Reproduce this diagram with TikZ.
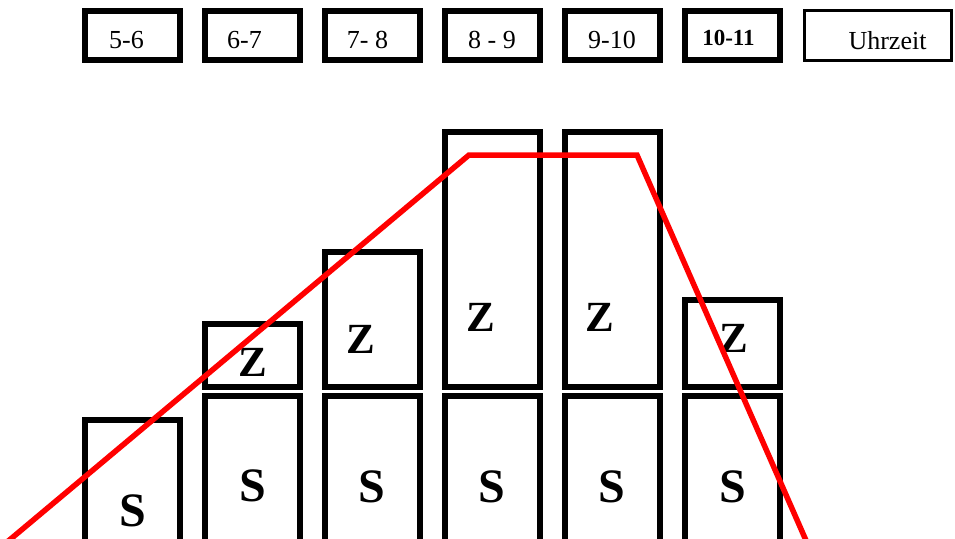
\documentclass[tikz,border=0pt]{standalone}
\usepackage{fontspec}
\setmainfont{Liberation Serif}
\begin{document}
\begin{tikzpicture}[x=1pt,y=-1pt,
  hbox/.style={draw=black,line width=5.5pt,inner sep=0pt,minimum width=95pt},
  ubox/.style={draw=black,line width=3pt,inner sep=0pt,minimum width=147pt,minimum height=50pt},
  lbl/.style={inner sep=0pt,anchor=base,font=\fontsize{26}{26}\selectfont},
  blbl/.style={inner sep=0pt,anchor=base,font=\fontsize{23}{23}\selectfont\bfseries},
  slbl/.style={inner sep=0pt,anchor=base,font=\fontsize{48}{48}\selectfont\bfseries},
  zlbl/.style={inner sep=0pt,anchor=base,font=\fontsize{43}{43}\selectfont\bfseries},
  redline/.style={draw=red,line width=5.5pt}]
\useasboundingbox (0,0) rectangle (955,538);
% top row boxes
\node[hbox,minimum height=49pt] (t1) at (132.5,35.5) {};
\node[hbox,minimum height=49pt] (t2) at (252.5,35.5) {};
\node[hbox,minimum height=49pt] (t3) at (372.5,35.5) {};
\node[hbox,minimum height=49pt] (t4) at (492.5,35.5) {};
\node[hbox,minimum height=49pt] (t5) at (612.5,35.5) {};
\node[hbox,minimum height=49pt] (t6) at (732.5,35.5) {};
\node[ubox] (t7) at (878,35.5) {};
\begin{scope}
\clip (0,0) rectangle (800,48);
\node[lbl] (l1) at (126.5,48.5) {5-6};
\node[lbl] (l2) at (244.5,48.5) {6-7};
\node[lbl] (l3) at (367.5,48.5) {7- 8};
\node[lbl] (l4) at (492,48.5) {8 - 9};
\node[lbl] (l5) at (612,48.5) {9-10};
\end{scope}
\node[blbl] (l6) at (728.5,45) {10-11};
\node[lbl] (l7) at (887.5,49.5) {Uhrzeit};
% S boxes
\node[hbox,minimum height=140pt] (s1) at (132.5,490) {};
\node[hbox,minimum height=164pt] (s2) at (252.5,478) {};
\node[hbox,minimum height=164pt] (s3) at (372.5,478) {};
\node[hbox,minimum height=164pt] (s4) at (492.5,478) {};
\node[hbox,minimum height=164pt] (s5) at (612.5,478) {};
\node[hbox,minimum height=164pt] (s6) at (732.5,478) {};
% Z boxes
\node[hbox,minimum height=63pt] (z2) at (252.5,355.5) {};
\node[hbox,minimum height=135pt] (z3) at (372.5,319.5) {};
\node[hbox,minimum height=255pt] (z4) at (492.5,259.5) {};
\node[hbox,minimum height=255pt] (z5) at (612.5,259.5) {};
\node[hbox,minimum height=87pt] (z6) at (732.5,343.5) {};
% letters
\node[slbl] (sl1) at (133,526) {S};
\node[slbl] (sl2) at (253,501) {S};
\node[slbl] (sl3) at (372,502) {S};
\node[slbl] (sl4) at (492,502) {S};
\node[slbl] (sl5) at (612,502) {S};
\node[slbl] (sl6) at (733,502) {S};
\node[zlbl] (zl2) at (253,376) {Z};
\node[zlbl] (zl3) at (361,353) {Z};
\node[zlbl] (zl4) at (481,331) {Z};
\node[zlbl] (zl5) at (600,331) {Z};
\node[zlbl] (zl6) at (734,352) {Z};
% red curve
\coordinate (r1) at (3.5,545);
\coordinate (r2) at (469,155);
\coordinate (r3) at (637,155);
\coordinate (r4) at (808,545);
\draw[redline,line join=miter] (r1) -- (r2) -- (r3) -- (r4);
\end{tikzpicture}
\end{document}
